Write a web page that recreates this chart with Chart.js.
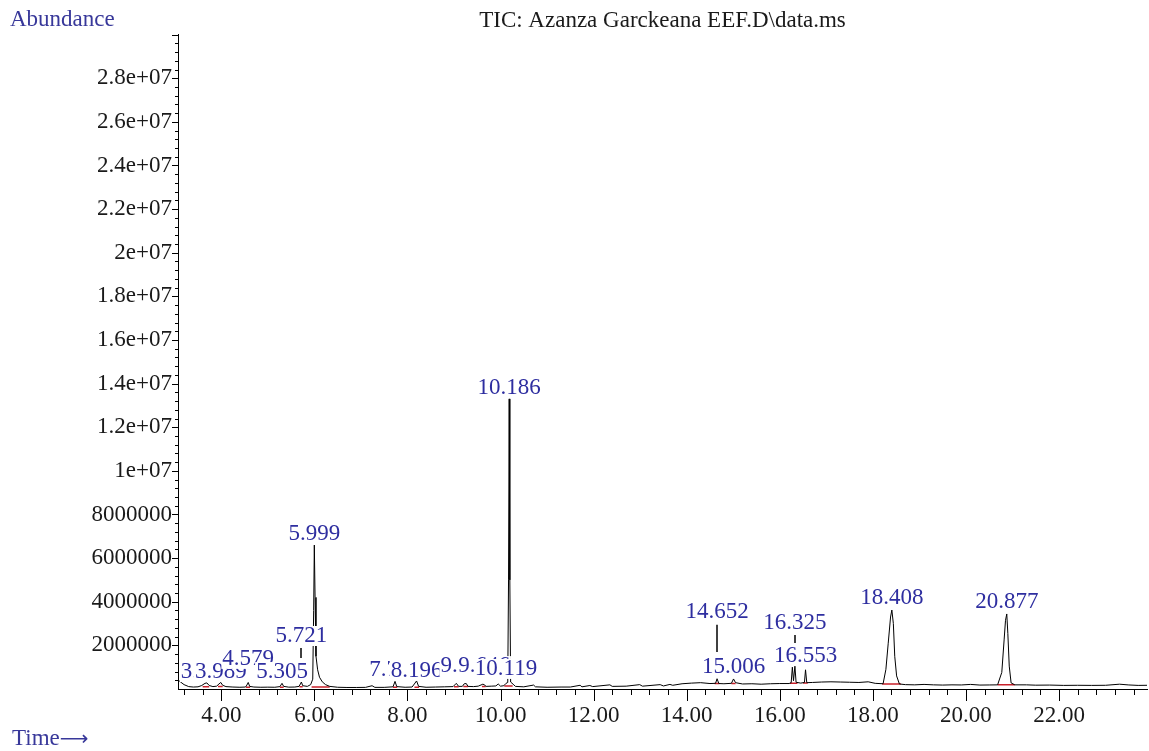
<!DOCTYPE html>
<html><head><meta charset="utf-8">
<script src="https://cdn.jsdelivr.net/npm/chart.js@4.4.1/dist/chart.umd.min.js"></script>
<style>html,body{margin:0;padding:0;background:#fff;}canvas{display:block;}</style>
</head><body>
<canvas id="c" width="1149" height="751"></canvas>
<script>
// ---- data ----
const retentionTimes = [
 3.07,3.12,3.20,3.30,3.40,3.50,3.58,3.65,3.69,3.74,3.82,3.90,3.95,3.99,4.03,4.10,4.25,4.40,4.52,4.55,4.579,4.61,4.70,4.85,
 5.00,5.15,5.26,5.305,5.34,5.45,5.58,5.67,5.70,5.721,5.75,5.85,5.92,5.965,5.985,5.999,6.015,6.035,6.07,6.11,6.17,6.24,6.33,
 6.50,6.70,6.90,7.10,7.24,7.30,7.50,7.69,7.733,7.77,7.95,8.10,8.196,8.24,8.40,8.60,8.80,8.98,9.05,9.10,9.18,9.22,9.264,9.30,
 9.42,9.52,9.62,9.646,9.69,9.80,9.90,9.95,10.00,10.07,10.119,10.155,10.172,10.186,10.200,10.217,10.27,10.32,10.50,10.71,10.75,
 11.00,11.30,11.50,11.71,11.75,11.92,11.98,12.35,12.40,12.70,12.99,13.05,13.43,13.50,13.64,13.70,13.90,14.10,14.30,14.50,
 14.62,14.652,14.69,14.80,14.96,15.006,15.05,15.20,15.40,15.60,15.80,16.00,16.20,16.245,16.27,16.295,16.325,16.35,16.45,
 16.53,16.553,16.58,16.70,16.90,17.10,17.30,17.50,17.70,17.90,18.05,18.22,18.28,18.33,18.38,18.408,18.44,18.47,18.51,18.57,
 18.70,18.90,19.10,19.30,19.50,19.70,19.90,20.10,20.30,20.50,20.68,20.77,20.82,20.85,20.877,20.90,20.93,20.97,21.05,21.30,
 21.50,21.80,22.10,22.40,22.70,23.00,23.30,23.50,23.70,23.89
];
const abundances = [
 420000,330000,200000,110000,90000,100000,160000,260000,280000,160000,110000,130000,230000,300000,170000,110000,90000,80000,90000,180000,300000,120000,90000,80000,
 85000,80000,110000,260000,120000,85000,90000,120000,230000,320000,150000,120000,200000,450000,3600000,6600000,4200000,1500000,880000,540000,330000,200000,120000,
 80000,70000,70000,75000,150000,75000,75000,100000,350000,110000,80000,90000,370000,120000,80000,90000,100000,110000,260000,120000,120000,240000,250000,120000,
 110000,130000,220000,200000,120000,130000,140000,230000,130000,150000,260000,300000,5000000,13300000,5000000,320000,220000,120000,100000,180000,100000,
 80000,90000,90000,170000,100000,160000,110000,190000,120000,130000,200000,130000,200000,140000,210000,170000,240000,270000,290000,250000,
 260000,470000,250000,240000,260000,460000,290000,230000,240000,220000,240000,250000,250000,290000,1000000,380000,1050000,310000,270000,
 300000,880000,290000,300000,320000,330000,320000,310000,300000,330000,260000,240000,900000,2100000,3300000,3620000,3000000,1500000,600000,230000,
 200000,190000,210000,190000,180000,190000,185000,210000,180000,185000,190000,760000,2250000,3150000,3440000,2550000,1050000,280000,190000,190000,
 175000,180000,165000,170000,165000,170000,220000,185000,165000,170000
];
const timeTickLabels = [4, 6, 8, 10, 12, 14, 16, 18, 20, 22];
const abundanceTickLabels = [2e6, 4e6, 6e6, 8e6, 1e7, 1.2e7, 1.4e7, 1.6e7, 1.8e7, 2e7, 2.2e7, 2.4e7, 2.6e7, 2.8e7];
const peakLabels = ['3.687','3.989','4.579','5.305','5.721','5.999','7.733','8.196','9.264','9.646','10.119','10.186',
                    '14.652','15.006','16.325','16.553','18.408','20.877'];
const peakTimes = [3.687,3.989,4.579,5.305,5.721,5.999,7.733,8.196,9.264,9.646,10.119,10.186,14.652,15.006,16.325,16.553,18.408,20.877];
const integrationStart = [3.60,3.93,4.53,5.26,5.68,5.94,7.69,8.15,9.00,9.20,9.60,10.08,14.60,14.96,16.22,16.50,18.20,20.68];
const integrationEnd   = [3.74,4.03,4.62,5.34,5.75,6.33,7.78,8.25,9.10,9.30,9.68,10.26,14.70,15.05,16.38,16.60,18.60,21.05];
const integrationLevel = [100000,110000,80000,80000,100000,90000,75000,80000,100000,110000,120000,140000,250000,250000,260000,280000,230000,190000];

// ---- label placement (annotation layout, in axis units) ----
const labelLevel = [780000,780000,1380000,780000,2430000,7110000,870000,830000,1050000,1050000,920000,13810000,
                    3530000,1010000,3050000,1510000,4170000,3990000];
const leaderLines = {4: [1880000, 1420000], 12: [2940000, 1700000], 14: [2480000, 2110000]};

const FONT = "'Liberation Serif', 'Times New Roman', serif";
const LABEL_BLUE = '#2e2ea0';

const tracePoints = retentionTimes.map((t, i) => ({x: t, y: abundances[i]}));
const integrationPoints = [];
integrationStart.forEach((s, i) => {
  integrationPoints.push({x: s, y: integrationLevel[i]}, {x: integrationEnd[i], y: integrationLevel[i]}, {x: integrationEnd[i], y: null});
});

const decor = {
  id: 'decor',
  afterDatasetsDraw(chart) {
    const {ctx, chartArea: a, scales: {x, y}} = chart;
    ctx.save();
    // tick marks
    ctx.strokeStyle = '#000'; ctx.lineWidth = 1;
    ctx.beginPath();
    for (let k = 0; ; k++) {
      const t = 3.2 + 0.4 * k;
      if (t > x.max) break;
      const px = Math.round(x.getPixelForValue(t)) + 0.5;
      const major = Math.abs(t / 2 - Math.round(t / 2)) < 1e-6;
      ctx.moveTo(px, a.bottom); ctx.lineTo(px, a.bottom + (major ? 12 : 6));
    }
    for (let k = 1; ; k++) {
      const v = 4e5 * k;
      if (v > y.max + 1) break;
      const py = Math.round(y.getPixelForValue(v)) + 0.5;
      const major = k % 5 === 0;
      ctx.moveTo(a.left, py); ctx.lineTo(a.left - (major ? 6 : 3), py);
    }
    ctx.stroke();
    // peak labels
    ctx.save();
    ctx.beginPath(); ctx.rect(a.left + 1, 0, a.right - a.left - 1, a.bottom - 1); ctx.clip();
    ctx.font = '23px ' + FONT; ctx.textAlign = 'center'; ctx.textBaseline = 'middle';
    peakLabels.forEach((txt, i) => {
      const px = x.getPixelForValue(peakTimes[i]);
      const py = y.getPixelForValue(labelLevel[i]);
      const w = ctx.measureText(txt).width;
      ctx.fillStyle = '#fff';
      ctx.fillRect(px - w / 2 - 1, py - 10, w + 2, 20);
      ctx.fillStyle = LABEL_BLUE;
      ctx.fillText(txt, px, py);
      if (leaderLines[i]) {
        ctx.strokeStyle = '#000'; ctx.lineWidth = 1.5;
        ctx.beginPath();
        ctx.moveTo(Math.round(px), y.getPixelForValue(leaderLines[i][0]));
        ctx.lineTo(Math.round(px), y.getPixelForValue(leaderLines[i][1]));
        ctx.stroke();
      }
    });
    ctx.restore();
    // axis captions
    ctx.fillStyle = '#38389a';
    ctx.font = '23px ' + FONT; ctx.textAlign = 'left'; ctx.textBaseline = 'middle';
    ctx.fillText('Abundance', 10, 20);
    ctx.fillText('Time', 12, 739);
    const tw = ctx.measureText('Time').width;
    ctx.font = '20px "DejaVu Sans"';
    ctx.fillText('\u27F6', 12 + tw, 740);
    ctx.restore();
  }
};

new Chart(document.getElementById('c'), {
  type: 'line',
  data: {
    datasets: [
      {data: tracePoints, borderColor: '#000', borderWidth: 1, pointRadius: 0, tension: 0},
      {data: integrationPoints, borderColor: '#c8202a', borderWidth: 1.5, pointRadius: 0, tension: 0, spanGaps: false}
    ]
  },
  options: {
    responsive: false,
    animation: false,
    devicePixelRatio: 1,
    layout: {padding: {left: 0, right: 2, top: 0, bottom: 0}},
    plugins: {
      legend: {display: false},
      tooltip: {enabled: false},
      title: {
        display: true, fullSize: false,
        text: 'TIC: Azanza Garckeana EEF.D\\data.ms',
        color: '#1a1a1a',
        font: {family: FONT, size: 23, weight: 'normal'},
        padding: {top: 7, bottom: 0}
      }
    },
    scales: {
      x: {
        type: 'linear', min: 3.07, max: 23.89,
        grid: {display: false, drawTicks: false},
        border: {display: true, color: '#000', width: 1},
        afterBuildTicks: s => { s.ticks = timeTickLabels.map(v => ({value: v})); },
        afterFit: s => { s.height = 62; },
        ticks: {
          autoSkip: false, maxRotation: 0, padding: 13, color: '#1a1a1a',
          font: {family: FONT, size: 23},
          callback: v => Number(v).toFixed(2)
        }
      },
      y: {
        type: 'linear', min: 0, max: 3e7,
        grid: {display: false, drawTicks: false},
        border: {display: true, color: '#000', width: 1},
        afterBuildTicks: s => { s.ticks = abundanceTickLabels.map(v => ({value: v})); },
        afterFit: s => { s.width = 178; },
        ticks: {
          autoSkip: false, padding: 6, color: '#1a1a1a',
          font: {family: FONT, size: 23},
          callback: v => v < 1e7 ? String(v) : (v / 1e7) + 'e+07'
        }
      }
    }
  },
  plugins: [decor]
});
</script>
</body></html>
